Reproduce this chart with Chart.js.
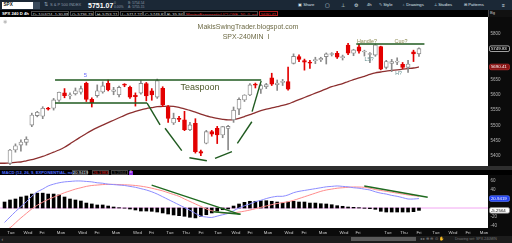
<!DOCTYPE html>
<html>
<head>
<meta charset="utf-8">
<script src="https://cdn.jsdelivr.net/npm/chart.js@4.4.1/dist/chart.umd.min.js"></script>
<style>
html,body{margin:0;padding:0;width:512px;height:243px;overflow:hidden;background:#000;font-family:"Liberation Sans",Arial,sans-serif;}
.a{position:absolute;white-space:nowrap;line-height:1;}
.c{transform:translate(-50%,-50%);}
.hb{position:absolute;top:10.6px;height:5.6px;border:0.5px solid #4a4a4a;color:#d8d8d8;font-size:4.2px;line-height:5px;padding:0 1px;white-space:nowrap;box-sizing:border-box;overflow:hidden;}
canvas{position:absolute;left:0;}
</style>
</head>
<body>
<!-- toolbar -->
<div class="a" style="left:0;top:0;width:512px;height:10px;background:#1b2836"></div>
<div class="a" style="left:2px;top:1.5px;width:31px;height:7px;background:#fff"></div>
<div class="a" style="left:3.5px;top:2.8px;font-size:4.6px;font-weight:bold;color:#111">SPX</div>
<div class="a" style="left:33px;top:1.5px;width:7px;height:7px;background:#3a4a5c"></div>
<div class="a" style="left:44px;top:2.2px;font-size:5px;color:#9ab">⇅</div>
<div class="a" style="left:50px;top:3.2px;font-size:4px;color:#8d9bab">S &amp; P 500 INDEX</div>
<div class="a" style="left:88px;top:1.8px;font-size:7px;font-weight:bold;color:#fff">5751.07</div>
<div class="a" style="left:114px;top:1px;font-size:3.4px;color:#8d9bab;line-height:4px">0<br>0.00%</div>
<div class="a" style="left:128px;top:1px;font-size:3.4px;color:#8d9bab;line-height:4px">B: 5754.54<br>A: 5755.15</div>
<div class="a" style="left:298px;top:3px;font-size:4.2px;color:#dfe6ee">▣ Share</div>
<div class="a" style="left:325px;top:2.5px;font-size:5px;color:#dfe6ee">▢</div>
<div class="a" style="left:341px;top:2.5px;font-size:5px;color:#dfe6ee">⊥</div>
<div class="a" style="left:354px;top:2.5px;font-size:5px;color:#dfe6ee">⚙</div>
<div class="a" style="left:367px;top:3px;font-size:4.2px;color:#dfe6ee">4h</div>
<div class="a" style="left:379px;top:3px;font-size:4.2px;color:#dfe6ee">✎ Style</div>
<div class="a" style="left:402px;top:3px;font-size:4.2px;color:#dfe6ee">♁ Drawings</div>
<div class="a" style="left:434px;top:3px;font-size:4.2px;color:#dfe6ee">⊥ Studies</div>
<div class="a" style="left:464px;top:3px;font-size:4.2px;color:#dfe6ee">⊞ Patterns</div>
<div class="a" style="left:502px;top:2.5px;font-size:5px;color:#dfe6ee">≡</div>
<!-- header row -->
<div class="a" style="left:0;top:10px;width:512px;height:7px;background:#000"></div>
<div class="a" style="left:2px;top:11.6px;font-size:4.2px;font-weight:bold;color:#fff">SPX 240 D 4h</div>
<div class="hb" style="left:31px;width:38px">D: 10/4/24, 1:30 PM</div>
<div class="hb" style="left:70px;width:24px">O: 5736.79</div>
<div class="hb" style="left:95px;width:24px">H: 5753.21</div>
<div class="hb" style="left:120px;width:23px">L: 5717.27</div>
<div class="hb" style="left:143px;width:22px">C: 5749.83</div>
<div class="hb" style="left:165px;width:19px">R: 35.94</div>
<div class="hb" style="left:184px;width:74px;color:#e23030">MovingExponential (CLOSE, 50, 0, no)</div>
<div class="hb" style="left:259px;width:19px;color:#e23030;border-color:#b02020">5690.41</div>
<div class="a" style="left:488px;top:10px;width:24px;height:9px;background:#111;border-left:0.5px solid #444"></div>
<div class="a" style="left:490px;top:11px;font-size:4px;color:#ccc">Bg</div>

<!-- price panel -->
<canvas id="price" width="512" height="149" style="top:17px"></canvas>
<div class="a c" style="left:248px;top:26px;font-size:7px;color:#6d6a45">MakisSwingTrader.blogspot.com</div>
<div class="a c" style="left:246px;top:36px;font-size:7px;color:#6d6a45">SPX-240MIN&nbsp; I</div>
<div class="a c" style="left:200px;top:87px;font-size:9px;color:#4e5a2c">Teaspoon</div>
<div class="a c" style="left:85.5px;top:75px;font-size:6px;color:#6a6aff">5</div>
<div class="a c" style="left:367px;top:41.5px;font-size:5.4px;color:#8d8a52">Handle?</div>
<div class="a c" style="left:401px;top:41.5px;font-size:5.4px;color:#8d8a52">Cup?</div>
<div class="a c" style="left:369px;top:60px;font-size:5.2px;color:#5f8c8c">LS?</div>
<div class="a c" style="left:398.5px;top:74px;font-size:5.2px;color:#5f8c8c">H?</div>
<div class="a c" style="left:4.5px;top:21px;font-size:5px;color:#bbb">◉</div>

<!-- separator + MACD header -->
<div class="a" style="left:0;top:166px;width:512px;height:4px;background:#2e2e2e"></div>
<div class="a" style="left:0;top:170px;width:512px;height:5px;background:#000"></div>
<div class="a" style="left:2px;top:170.8px;font-size:4.2px;font-weight:bold;color:#4d6cff">MACD (12, 26, 9, EXPONENTIAL, no)</div>
<div class="a" style="left:72px;top:170.3px;width:16px;height:4.6px;border:0.5px solid #444;box-sizing:border-box"></div>
<div class="a" style="left:73px;top:170.8px;font-size:4.2px;color:#eee">20.9419</div>
<div class="a" style="left:92px;top:170.3px;width:17px;height:4.6px;border:0.5px solid #444;box-sizing:border-box"></div>
<div class="a" style="left:93px;top:170.8px;font-size:4.2px;color:#e02828">26.1983</div>
<div class="a" style="left:111px;top:170.3px;width:17px;height:4.6px;border:0.5px solid #444;box-sizing:border-box"></div>
<div class="a" style="left:112px;top:170.8px;font-size:4.2px;color:#555">-5.2564</div>
<div class="a" style="left:128.5px;top:170.5px;width:4px;height:4.2px;background:#8a2be2"></div>
<div class="a" style="left:129.4px;top:170.8px;font-size:3.8px;color:#fff">3</div>

<!-- MACD panel -->
<canvas id="macd" width="512" height="61" style="top:175px"></canvas>

<!-- bottom bar -->
<div class="a" style="left:0;top:236px;width:512px;height:7px;background:#1c1c1c"></div>
<div class="a" style="left:351px;top:236.5px;width:65px;height:4.5px;background:#5a5a5a"></div>
<div class="a" style="left:1.5px;top:236.5px;font-size:5px;color:#aaa">‹</div>
<div class="a" style="left:420px;top:237px;font-size:4.2px;color:#888">◂ ▸ ⊕ ⊖ ⊙ ✋</div>
<div class="a" style="left:455px;top:237.5px;font-size:3.6px;color:#777">Drawing set: SPX-240MIN</div>

<script>
// ---------- DATA ----------
// 4-hour SPX candles, index 0 = Tue Aug 13 AM ... index 75 = Fri Oct 4
const opens  = [5377,5420,5436,5445,5501,5532,5530,5556,5556,5582,5606,5596,5603,5608,5637,5585,5597,5609,5637,5611,5600,5633,5624,5598,5605,5636,5613,5592,5621,5561,5508,5523,5518,5486,5507,5415,5442,5480,5491,5469,5490,5518,5553,5583,5599,5634,5618,5626,5655,5633,5640,5643,5702,5724,5711,5706,5711,5713,5724,5731,5735,5721,5762,5735,5756,5739,5731,5729,5757,5689,5702,5706,5699,5689,5740,5733];
const highs  = [5422,5440,5453,5463,5540,5546,5561,5559,5588,5609,5620,5606,5622,5628,5641,5590,5632,5642,5648,5624,5628,5636,5628,5606,5646,5640,5620,5651,5626,5565,5540,5530,5546,5510,5522,5420,5484,5484,5497,5497,5500,5560,5590,5600,5636,5638,5634,5637,5670,5648,5650,5690,5733,5730,5716,5712,5722,5722,5736,5737,5741,5729,5767,5748,5765,5745,5737,5765,5758,5712,5715,5720,5705,5712,5745,5753];
const lows   = [5372,5413,5416,5436,5496,5528,5522,5550,5550,5578,5590,5586,5599,5602,5578,5560,5592,5605,5612,5600,5593,5626,5588,5563,5602,5580,5582,5588,5561,5510,5503,5512,5483,5483,5410,5402,5440,5465,5441,5460,5420,5510,5535,5578,5597,5622,5604,5620,5630,5614,5630,5615,5700,5708,5680,5686,5701,5708,5700,5726,5718,5713,5730,5727,5735,5726,5704,5725,5681,5684,5675,5698,5685,5673,5708,5725];
const closes = [5420,5434,5446,5455,5534,5543,5556,5553,5583,5608,5597,5599,5613,5620,5585,5574,5613,5629,5616,5616,5624,5631,5592,5594,5637,5596,5599,5646,5567,5523,5523,5520,5486,5502,5415,5410,5480,5472,5469,5496,5497,5550,5585,5599,5632,5631,5630,5633,5634,5638,5643,5618,5725,5715,5706,5703,5713,5719,5733,5734,5722,5724,5735,5746,5742,5741,5734,5762,5683,5708,5708,5709,5689,5700,5733,5749.83];
// moving average (starts at index -2)
const emaStart = -2;
const emaValues = [5377,5377,5378,5380,5381,5385,5389,5394,5399,5406,5413,5420,5429,5440,5452,5463,5474,5484,5493,5501,5509,5517,5525,5533,5540,5546,5551,5555,5558,5561,5562,5563,5562,5559,5554,5549,5543,5537,5531,5527,5523,5520,5518,5519,5523,5529,5535,5542,5548,5553,5557,5561,5565,5570,5577,5584,5591,5598,5605,5612,5619,5626,5631,5636,5643,5649,5655,5660,5666,5671,5674,5677,5679,5681,5683,5685,5687,5690.41];
// MACD study (starts at index -1)
const macdStart = -1;
const macdValue = [-32,-20,-8,3,14,26,36,42,49,53,56,58,59,60,60,59,58,56,55,53,52,51,50,48,46,43,40,36,31,25,19,13,7,1,-5,-12,-18,-20,-21,-18,-15,-12,-6,0,5,9,14,17,21,24,26,26,29,34,37,39,41,43,45,47,48,49,48,47,45,44,42,40,36,33,31,28,26,23,20,20,20.94];
const macdAvg   = [-50,-44,-33,-22,-12,-2,6,13,19,24,29,34,38,42,45,48,50,51,52,52.5,52.5,52,51.5,51,50,48.5,46.5,44,41,38,34,30,26,20,14.5,9,3.5,-2,-6,-9,-11,-11.5,-10.5,-9,-7,-4.5,-1.5,1.5,4.5,7.5,10,12,14,17,21,25,29,33,37,40,42,44,45,46,46.7,46.5,46,44,41,39,37,35,33,31,29,27.5,26.2];
const macdDiff  = [13.3,17.8,20,24.4,26.7,31,33,33,31,31,29,24.4,20,17.8,15.5,11,9,6.7,6.7,4.4,2.2,0.7,-0.4,-2.2,-4.4,-6.7,-6.7,-7.3,-8.9,-11,-13.3,-15.5,-17,-18.4,-20.6,-22,-18.4,-14.9,-11,-7.3,-3.8,-2.2,4.4,8.9,12.6,14.9,14.9,16.2,16.2,14.9,13.3,11,13.3,14.9,13.3,13.3,11,11,9.5,8.9,7.3,5.1,3.8,2.2,1.5,0.7,-0.7,-1.5,-2.9,-7.3,-8.9,-8.9,-8.9,-8.9,-8.9,-8.2,-5.26];
// hand-drawn trend lines: [index, price] pairs
const priceDrawings = [
  [[8.26,5648],[46.06,5648]],
  [[8.26,5573],[25.14,5573]],
  [[25.14,5573],[27.52,5502]],
  [[28.44,5491],[31.5,5418]],
  [[32.9,5395],[36.1,5385]],
  [[37.6,5393],[40.7,5415]],
  [[41.7,5442],[44.35,5512]],
  [[44.4,5545],[46.06,5645]],
  [[63.5,5765],[76.0,5765]]
];
const macdDrawings = [
  [[25.98,51],[42.18,-14]],
  [[37.28,-8.2],[42.3,-14]],
  [[64.97,48.9],[76.6,23.8]]
];
// axis ticks
const priceTicks = [5400,5450,5500,5550,5600,5650,5800];
const macdTicks = [-40,-20,40,60];
const tickLabels = ['Tue','Wed','Fri','Mon','Wed','Fri','Mon','Wed','Fri','Tue','Thu','Fri','Tue','Wed','Fri','Mon','Wed','Fri','Mon','Wed','Fri','Tue','Thu','Fri','Tue','Wed','Fri','Mon'];
const tickPositions = [0.18,3.30,5.87,9.35,13.30,15.95,19.44,23.38,25.95,29.34,32.28,35.03,38.14,41.44,44.01,47.31,51.16,53.91,57.40,61.25,63.82,69.32,72.25,75.0,78.12,81.24,83.99,86.93];
const lastPrice = 5749.83, lastEma = 5690.41, lastMacd = 20.9419, lastDiff = -5.2564;

// ---------- CHARTS ----------
const xMin = -1.834, xMax = 87.66;
const UP_FILL = '#ffffff', UP_LINE = '#8a8a8a', DN = '#e30000';
const up = opens.map((o,i) => closes[i] >= o);

const bgPlugin = {
  id: 'bg',
  beforeDraw(chart) {
    const {ctx, chartArea: a, width, height} = chart;
    ctx.save();
    ctx.fillStyle = '#0b0b0b';
    ctx.fillRect(0, 0, width, height);
    ctx.fillStyle = '#ffffff';
    ctx.fillRect(a.left, a.top, a.right - a.left, a.bottom - a.top);
    ctx.restore();
  }
};
const boxPlugin = {
  id: 'boxes',
  afterDraw(chart, args, opts) {
    const ctx = chart.ctx, y = chart.scales.y;
    (opts.items || []).forEach(b => {
      const py = y.getPixelForValue(b.value);
      const x0 = chart.chartArea.right + 1.5, w = 20, h = 5.6;
      ctx.save();
      ctx.fillStyle = b.bg; ctx.strokeStyle = b.border; ctx.lineWidth = 0.7;
      ctx.beginPath();
      ctx.roundRect(x0, py - h / 2, w, h, 1.6);
      ctx.fill(); ctx.stroke();
      ctx.fillStyle = b.fg;
      ctx.font = '4.4px "Liberation Sans", Arial';
      ctx.textAlign = 'left'; ctx.textBaseline = 'middle';
      ctx.fillText(b.text, x0 + 1.4, py + 0.3);
      ctx.restore();
    });
  }
};

function drawingSets(list, color) {
  return list.map(seg => ({
    type: 'line', data: seg.map(p => ({x: p[0], y: p[1]})),
    borderColor: color, borderWidth: 1.4, pointRadius: 0, order: 0
  }));
}

new Chart(document.getElementById('price'), {
  type: 'bar',
  data: {
    datasets: [
      {
        type: 'bar', order: 3, grouped: false,
        data: opens.map((o,i) => ({x: i, y: [lows[i], highs[i]]})),
        backgroundColor: up.map(u => u ? UP_LINE : DN),
        barThickness: 1, borderWidth: 0
      },
      {
        type: 'bar', order: 2, grouped: false,
        data: opens.map((o,i) => ({x: i, y: [Math.min(o, closes[i]), Math.max(o, closes[i])]})),
        backgroundColor: up.map(u => u ? UP_FILL : DN),
        borderColor: up.map(u => u ? UP_LINE : DN),
        borderWidth: 0.9, borderSkipped: false, barThickness: 4, minBarLength: 1
      },
      {
        type: 'line', order: 4,
        data: emaValues.map((v,i) => ({x: i + emaStart, y: v})),
        borderColor: '#8c2f2f', borderWidth: 1.3, pointRadius: 0, tension: 0.3
      },
      ...drawingSets(priceDrawings, '#1f5a1f')
    ]
  },
  options: {
    responsive: false, animation: false, events: [],
    layout: {padding: 0},
    plugins: {legend: {display: false}, tooltip: {enabled: false},
      boxes: {items: [
        {value: lastPrice, text: lastPrice.toFixed(2), bg: '#000', fg: '#fff', border: '#e8e8e8'},
        {value: lastEma, text: lastEma.toFixed(2), bg: '#8a1414', fg: '#fff', border: '#c03030'}
      ]}},
    scales: {
      x: {type: 'linear', min: xMin, max: xMax, display: false, offset: false},
      y: {
        position: 'right', min: 5368, max: 5853,
        afterFit(s) { s.width = 24; s.paddingTop = 0; s.paddingBottom = 0; },
        afterBuildTicks(s) { s.ticks = priceTicks.map(v => ({value: v})); },
        grid: {display: false, drawTicks: false}, border: {display: false},
        ticks: {autoSkip: false, color: '#b5b5b5', padding: 2.5,
          font: {size: 4.5, family: '"Liberation Sans", Arial'}, callback: v => String(v)}
      }
    }
  },
  plugins: [bgPlugin, boxPlugin]
});

new Chart(document.getElementById('macd'), {
  type: 'bar',
  data: {
    datasets: [
      {
        type: 'bar', order: 3, grouped: false,
        data: macdDiff.map((v,i) => ({x: i + macdStart, y: v})),
        backgroundColor: '#000', barThickness: 3, borderWidth: 0
      },
      {
        type: 'line', order: 4,
        data: [{x: xMin, y: 0}, {x: xMax, y: 0}],
        borderColor: '#f2a6f2', borderWidth: 1, pointRadius: 0
      },
      {
        type: 'line', order: 2,
        data: macdValue.map((v,i) => ({x: i + macdStart, y: v})),
        borderColor: '#8c8cff', borderWidth: 1, pointRadius: 0, tension: 0.3
      },
      {
        type: 'line', order: 2,
        data: macdAvg.map((v,i) => ({x: i + macdStart, y: v})),
        borderColor: '#ff8c8c', borderWidth: 1, pointRadius: 0, tension: 0.3
      },
      ...drawingSets(macdDrawings, '#1f6a1f')
    ]
  },
  options: {
    responsive: false, animation: false, events: [],
    layout: {padding: 0},
    plugins: {legend: {display: false}, tooltip: {enabled: false},
      boxes: {items: [
        {value: lastMacd, text: lastMacd.toFixed(4), bg: '#2040f0', fg: '#fff', border: '#6080ff'},
        {value: lastDiff, text: lastDiff.toFixed(4), bg: '#fff', fg: '#000', border: '#888'}
      ]}},
    scales: {
      x: {
        type: 'linear', min: xMin, max: xMax, position: 'bottom', offset: false,
        afterFit(s) { s.height = 8; s.paddingLeft = 0; s.paddingRight = 0; },
        afterBuildTicks(s) { s.ticks = tickPositions.map(v => ({value: v})); },
        grid: {display: false, drawTicks: false}, border: {display: false},
        ticks: {autoSkip: false, maxRotation: 0, minRotation: 0, color: '#cfcfcf', padding: 1.8,
          font: {size: 4.3, family: '"Liberation Sans", Arial'}, callback: (v, i) => tickLabels[i]}
      },
      y: {
        position: 'right', min: -44.4, max: 73.3,
        afterFit(s) { s.width = 24; s.paddingTop = 0; s.paddingBottom = 0; },
        afterBuildTicks(s) { s.ticks = macdTicks.map(v => ({value: v})); },
        grid: {display: false, drawTicks: false}, border: {display: false},
        ticks: {autoSkip: false, color: '#b5b5b5', padding: 2.5,
          font: {size: 4.5, family: '"Liberation Sans", Arial'}, callback: v => String(v)}
      }
    }
  },
  plugins: [bgPlugin, boxPlugin]
});
</script>
</body>
</html>
